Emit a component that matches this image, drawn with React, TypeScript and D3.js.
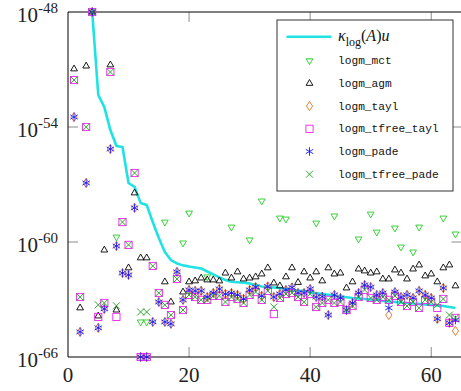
import React from "react";
import * as d3 from "d3";

// Test matrix numbers (x axis)
const matrixIndex = [
  1, 2, 3, 4, 5, 6, 7, 8, 9, 10, 11, 12, 13, 14, 15, 16, 17, 18, 19, 20,
  21, 22, 23, 24, 25, 26, 27, 28, 29, 30, 31, 32, 33, 34, 35, 36, 37, 38, 39, 40,
  41, 42, 43, 44, 45, 46, 47, 48, 49, 50, 51, 52, 53, 54, 55, 56, 57, 58, 59, 60,
  61, 62, 63, 64,
];

// log10 of the relative errors / condition-number bound (null = not shown)
const kappaLog = [
  null, null, null, -48.0, -52.33, -52.96, -54.16, -54.99, -55.04, -56.92,
  -57.13, -57.96, -58.07, -58.96, -59.79, -60.52, -60.94, -61.12, -61.22, -61.28,
  -61.33, -61.38, -61.54, -61.69, -61.85, -61.98, -62.07, -62.1, -62.13, -62.16,
  -62.24, -62.32, -62.35, -62.37, -62.4, -62.45, -62.5, -62.53, -62.55, -62.63,
  -62.66, -62.71, -62.76, -62.81, -62.84, -62.88, -62.92, -62.94, -62.97, -63.0,
  -63.02, -63.08, -63.1, -63.13, -63.16, -63.18, -63.21, -63.23, -63.26, -63.28,
  -63.31, -63.34, -63.39, -63.44,
];

const mctLog = [
  null, null, null, null, null, null, null, -59.74, null, null,
  null, -64.17, -64.17, null, null, -58.96, null, null, -60.05, -58.49,
  null, null, -61.82, null, null, null, -59.22, null, null, -59.89,
  null, -57.86, null, null, -58.75, -58.8, null, null, null, null,
  -59.01, null, null, -58.64, null, null, null, -59.84, null, -58.54,
  -59.48, null, null, -59.27, -60.26, null, -60.52, -59.22, null, null,
  null, -58.75, null, -59.58,
];

const agmLog = [
  -50.97, -63.44, -50.82, -48.0, -63.86, -60.42, -50.76, -63.55, null, -61.35,
  -57.44, -60.83, -60.83, null, null, -62.08, -63.13, null, -62.61, -62.08,
  -62.03, -61.88, -61.98, -61.98, -62.03, -61.62, -61.88, -61.56, -61.93, -61.88,
  -61.82, -61.67, -61.35, -62.14, -62.29, -61.82, -61.35, -62.11, -61.56, -61.88,
  -61.56, -62.03, -61.35, -61.67, -61.62, -62.4, -62.08, -61.41, -61.51, -61.62,
  -61.56, -61.93, -61.93, -61.46, -61.62, -61.93, -61.41, -61.2, -61.77, -61.67,
  -62.08, -61.35, -61.2, -62.29,
];

const taylLog = [
  -53.48, -64.69, -56.92, -48.0, -64.48, -63.49, -55.15, -60.21, -61.62, -61.72,
  -58.22, -66.0, -66.0, -64.17, -63.13, -64.17, -64.27, -61.56, -63.02, -62.5,
  -62.55, -62.55, -62.87, -62.66, -62.45, -62.71, -62.66, -62.76, -62.97, -62.5,
  -62.35, -62.81, -62.32, -62.87, -62.71, -62.5, -62.37, -62.66, -62.66, -62.45,
  -62.87, -62.85, -63.81, -62.76, -62.92, -63.55, -63.18, -62.66, -62.24, -62.35,
  -62.76, -62.66, -63.81, -62.61, -62.87, -62.76, -62.92, -62.55, -62.76, -62.92,
  -64.01, -62.4, -64.22, -64.64,
];

const tfreeTaylLog = [
  -51.55, -62.87, -54.0, -48.0, -63.91, -63.18, -51.13, -63.91, -58.96, -60.15,
  -56.4, -66.0, -66.0, -61.25, -62.66, -63.28, -63.81, -61.93, -63.55, -62.76,
  -62.87, -63.02, -63.02, -62.81, -62.81, -63.13, -62.87, -62.97, -63.18, -62.76,
  -62.61, -63.02, -62.55, -63.76, -62.92, -62.71, -62.66, -62.87, -63.13, -62.71,
  -63.39, -63.18, -63.02, -63.18, -63.13, -63.55, -63.34, -62.87, -62.5, -62.92,
  -63.02, -62.87, -63.02, -62.81, -63.13, -63.34, -63.13, -63.44, -63.02, -63.13,
  -63.44, -62.97, -64.22, -63.96,
];

const padeLog = [
  -53.48, -64.69, -56.92, -48.0, -64.48, -63.49, -55.15, -60.21, -61.62, -61.72,
  -58.22, -66.0, -66.0, -64.17, -63.13, -64.17, -64.27, -61.56, -63.02, -62.5,
  -62.55, -62.55, -62.87, -62.66, -62.45, -62.71, -62.66, -62.76, -62.97, -62.5,
  -62.35, -62.81, -62.32, -62.87, -62.71, -62.5, -62.37, -62.66, -62.66, -62.45,
  -62.87, -62.85, -63.81, -62.76, -62.92, -63.55, -63.18, -62.66, -62.24, -62.35,
  -62.76, -62.66, -63.44, -62.61, -62.87, -62.76, -62.92, -62.55, -62.76, -62.92,
  -64.01, -62.4, -64.22, -64.07,
];

const tfreePadeLog = [
  -51.55, -62.87, -54.0, -48.0, -63.28, -63.18, -51.13, -63.33, -58.96, -60.15,
  -56.4, -63.65, -63.65, -61.25, -62.66, -63.28, -63.81, -61.93, -63.55, -62.76,
  -62.87, -63.02, -63.02, -62.81, -62.81, -63.13, -62.87, -62.97, -63.18, -62.76,
  -62.61, -63.02, -62.55, -63.39, -62.92, -62.71, -62.66, -62.87, -63.13, -62.71,
  -63.39, -63.18, -63.02, -63.18, -63.13, -63.55, -63.34, -62.87, -62.5, -62.92,
  -63.02, -62.87, -63.02, -62.81, -63.13, -63.34, -63.13, -63.44, -63.02, -63.13,
  -63.28, -62.97, -63.81, -63.96,
];

const xTickValues = [0, 20, 40, 60];
const yTickExponents = [-48, -54, -60, -66];

type Shape = "tridown" | "triup" | "diamond" | "square" | "star" | "cross";

const markerSeries: { name: string; values: (number | null)[]; shape: Shape; color: string }[] = [
  { name: "logm_mct", values: mctLog, shape: "tridown", color: "#22cc22" },
  { name: "logm_agm", values: agmLog, shape: "triup", color: "#000000" },
  { name: "logm_tayl", values: taylLog, shape: "diamond", color: "#e2711d" },
  { name: "logm_tfree_tayl", values: tfreeTaylLog, shape: "square", color: "#ee22ee" },
  { name: "logm_pade", values: padeLog, shape: "star", color: "#1414ff" },
  { name: "logm_tfree_pade", values: tfreePadeLog, shape: "cross", color: "#1c9e1c" },
];

const W = 461;
const H = 391;
const left = 68;
const right = 461.5;
const top = 12;
const bottom = 357;

const serif = "'Liberation Serif', 'DejaVu Serif', serif";
const mono = "'Liberation Mono', 'DejaVu Sans Mono', monospace";

function Marker({ shape, x, y, color }: { shape: Shape; x: number; y: number; color: string }) {
  const sw = 0.9;
  switch (shape) {
    case "tridown": {
      const r = 3.9;
      const pts = [
        [x - r * 0.866, y - r * 0.5],
        [x + r * 0.866, y - r * 0.5],
        [x, y + r],
      ];
      return <polygon points={pts.map((p) => p.join(",")).join(" ")} fill="none" stroke={color} strokeWidth={sw} />;
    }
    case "triup": {
      const r = 3.9;
      const pts = [
        [x - r * 0.866, y + r * 0.5],
        [x + r * 0.866, y + r * 0.5],
        [x, y - r],
      ];
      return <polygon points={pts.map((p) => p.join(",")).join(" ")} fill="none" stroke={color} strokeWidth={sw} />;
    }
    case "diamond": {
      const pts = [
        [x, y - 4.6],
        [x + 3.1, y],
        [x, y + 4.6],
        [x - 3.1, y],
      ];
      return <polygon points={pts.map((p) => p.join(",")).join(" ")} fill="none" stroke={color} strokeWidth={sw} />;
    }
    case "square":
      return <rect x={x - 3.6} y={y - 3.6} width={7.2} height={7.2} fill="none" stroke={color} strokeWidth={sw} />;
    case "star": {
      const r = 4.3;
      const angles = [90, 30, -30];
      return (
        <g stroke={color} strokeWidth={sw}>
          {angles.map((a) => {
            const t = (a * Math.PI) / 180;
            const dx = r * Math.cos(t);
            const dy = r * Math.sin(t);
            return <line key={a} x1={x - dx} y1={y - dy} x2={x + dx} y2={y + dy} />;
          })}
        </g>
      );
    }
    case "cross": {
      const r = 3.5;
      return (
        <g stroke={color} strokeWidth={sw}>
          <line x1={x - r} y1={y - r} x2={x + r} y2={y + r} />
          <line x1={x - r} y1={y + r} x2={x + r} y2={y - r} />
        </g>
      );
    }
  }
  return null;
}

export default function App() {
  const x = d3.scaleLinear().domain([0, 65]).range([left, right]);
  const y = d3.scaleLog().domain([1e-66, 1e-48]).range([bottom, top]);
  const yv = (e: number) => y(Math.pow(10, e));

  const kappaLine = d3
    .line<number>()
    .defined((_, i) => kappaLog[i] !== null)
    .x((_, i) => x(matrixIndex[i]))
    .y((_, i) => yv(kappaLog[i] as number));

  const legendX = 277;
  const legendY = 20;
  const legendW = 176;
  const legendH = 171;
  const rowY0 = 60.7;
  const rowStep = 22.7;

  return (
    <svg
      width={W}
      height={H}
      viewBox={`0 0 ${W} ${H}`}
      style={{ position: "absolute", left: 0, top: 0, background: "#fff" }}
    >
      <rect x={0} y={0} width={W} height={H} fill="#fff" />

      {/* ticks (inward, grey) */}
      <g stroke="#8c8c8c" strokeWidth={1}>
        {xTickValues
          .filter((t) => t > 0)
          .map((t) => (
            <g key={`xt${t}`}>
              <line x1={x(t)} x2={x(t)} y1={bottom} y2={bottom - 10} />
              <line x1={x(t)} x2={x(t)} y1={top} y2={top + 10} />
            </g>
          ))}
        {yTickExponents
          .filter((e) => e !== -48 && e !== -66)
          .map((e) => (
            <g key={`yt${e}`}>
              <line x1={left} x2={left + 10} y1={yv(e)} y2={yv(e)} />
              <line x1={right} x2={right - 10} y1={yv(e)} y2={yv(e)} />
            </g>
          ))}
      </g>

      {/* kappa bound */}
      <path d={kappaLine(matrixIndex) || ""} fill="none" stroke="#1fe3e3" strokeWidth={2.6} strokeLinejoin="round" />

      {/* frame */}
      <g stroke="#000" strokeWidth={1} fill="none">
        <line x1={left} x2={left} y1={top} y2={bottom} />
        <line x1={left} x2={right} y1={bottom} y2={bottom} />
        <line x1={left} x2={right} y1={top} y2={top} />
      </g>

      {/* markers */}
      {markerSeries.map((s) => (
        <g key={s.name}>
          {s.values.map((v, i) =>
            v === null ? null : (
              <Marker key={i} shape={s.shape} x={x(matrixIndex[i])} y={yv(v)} color={s.color} />
            )
          )}
        </g>
      ))}

      {/* axis labels */}
      <g fontFamily={serif} fill="#222">
        {xTickValues.map((t) => (
          <text key={`xl${t}`} x={x(t)} y={382} fontSize={21} textAnchor="middle">
            {t}
          </text>
        ))}
        {yTickExponents.map((e) => (
          <text key={`yl${e}`} x={58} y={yv(e) + 10} fontSize={21} textAnchor="end">
            10
            <tspan dy={-9} fontSize={15}>
              {e}
            </tspan>
          </text>
        ))}
      </g>

      {/* legend */}
      <g>
        <rect x={legendX} y={legendY} width={legendW} height={legendH} fill="#fff" stroke="#333" strokeWidth={1} />
        <line x1={286.5} x2={331.5} y1={36.7} y2={36.7} stroke="#1fe3e3" strokeWidth={2.6} />
        <text x={338} y={41} fontFamily={serif} fontSize={16} fill="#111">
          <tspan fontStyle="italic">κ</tspan>
          <tspan fontSize={12} dy={5}>log</tspan>
          <tspan dy={-5}>(</tspan>
          <tspan fontStyle="italic">A</tspan>
          <tspan>)</tspan>
          <tspan fontStyle="italic">u</tspan>
        </text>
        {markerSeries.map((s, k) => {
          const ry = rowY0 + k * rowStep;
          return (
            <g key={`lg${s.name}`}>
              <Marker shape={s.shape} x={309.5} y={ry} color={s.color} />
              <text x={338} y={ry + 3.5} fontFamily={mono} fontSize={11.2} fill="#111">
                {s.name}
              </text>
            </g>
          );
        })}
      </g>
    </svg>
  );
}
